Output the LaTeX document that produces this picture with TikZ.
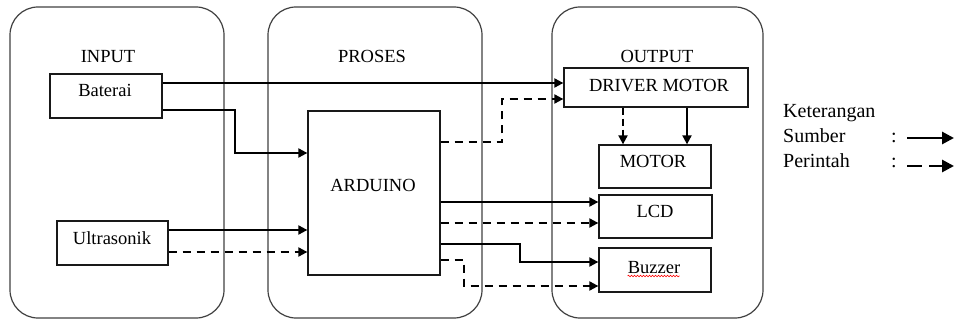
\documentclass[tikz,border=0pt]{standalone}
\usepackage{fontspec}
\setmainfont{Liberation Serif}
\usetikzlibrary{arrows.meta,decorations.pathmorphing}
\begin{document}
\begin{tikzpicture}[x=1pt,y=-1pt,
  panel/.style={draw=black!75, line width=1.2pt, rounded corners=28pt},
  box/.style={draw=black!90, line width=1.3pt, inner sep=0pt},
  txt/.style={font=\fontsize{18.5}{20}\selectfont, anchor=base, inner sep=0pt},
  legtxt/.style={font=\fontsize{20}{24}\selectfont, anchor=base west, inner sep=0pt},
  sumber/.style={line width=2pt, -{Triangle[length=9pt,width=9pt]}},
  perintah/.style={line width=2pt, dash pattern=on 8pt off 6pt, -{Triangle[length=9pt,width=9pt]}}
]
\useasboundingbox (0,0) rectangle (955,320);
% panels
\draw[panel] (10,7) rectangle (224,318);
\draw[panel] (268,7) rectangle (482,318);
\draw[panel] (552,7) rectangle (763,318);
% headers
\node[txt] (hin) at (108,63) {INPUT};
\node[txt] (hpr) at (372,63) {PROSES};
\node[txt] (hout) at (657,63) {OUTPUT};
% boxes
\node[box, minimum width=112pt, minimum height=44pt] (bat) at (106,96) {};
\node[txt] (batt) at (105,97) {Baterai};
\node[box, minimum width=111pt, minimum height=44pt] (ult) at (112.5,243) {};
\node[txt] (ultt) at (112,245) {Ultrasonik};
\node[box, minimum width=132pt, minimum height=164pt] (ard) at (374,193) {};
\node[txt] (ardt) at (373,192) {ARDUINO};
\node[box, minimum width=184pt, minimum height=39pt] (drv) at (656,87.5) {};
\node[txt] (drvt) at (659,92) {DRIVER MOTOR};
\node[box, minimum width=112pt, minimum height=43pt] (mot) at (655,166.5) {};
\node[txt] (mott) at (653,168) {MOTOR};
\node[box, minimum width=113pt, minimum height=43pt] (lcd) at (655.5,216.5) {};
\node[txt] (lcdt) at (655,218) {LCD};
\node[box, minimum width=112pt, minimum height=44pt] (buz) at (655,270) {};
\node[txt] (buzt) at (654,273) {Buzzer};
\draw[red, line width=0.6pt, decorate, decoration={snake, amplitude=0.8pt, segment length=3pt}] (buzt.base west) ++(0,3) -- ++(52,0);
% connectors
\draw[sumber] (bat.east |- 0,83) -- (drv.west |- 0,83);
\draw[sumber] (bat.east |- 0,110) -- (235,110) -- (235,153) -- (ard.west |- 0,153);
\draw[sumber] (ult.east |- 0,230) -- (ard.west |- 0,230);
\draw[perintah] (ult.east |- 0,252) -- (ard.west |- 0,252);
\draw[perintah] (ard.east |- 0,142) -- (502,142) -- (502,99) -- (drv.west |- 0,99);
\draw[sumber] (ard.east |- 0,202) -- (lcd.west |- 0,202);
\draw[perintah] (ard.east |- 0,223) -- (lcd.west |- 0,223);
\draw[sumber] (ard.east |- 0,244) -- (520,244) -- (520,262) -- (buz.west |- 0,262);
\draw[perintah] (ard.east |- 0,260) -- (464,260) -- (464,286) -- (buz.west |- 0,286);
\draw[perintah, dash pattern=on 7pt off 4pt] (drv.south -| 623,0) -- (mot.north -| 623,0);
\draw[sumber] (drv.south -| 687,0) -- (mot.north -| 687,0);
% legend
\node[legtxt] (k) at (783,118) {Keterangan};
\node[legtxt] (s) at (783,143) {Sumber};
\node[legtxt] (p) at (783,168) {Perintah};
\node[legtxt] (c1) at (891,143) {:};
\node[legtxt] (c2) at (891,168) {:};
\coordinate (l1a) at (907,138);
\coordinate (l1b) at (954,138);
\coordinate (l2a) at (907,166);
\coordinate (l2b) at (922,166);
\coordinate (l2c) at (929,166);
\coordinate (l2d) at (954,166);
\draw[line width=2.8pt, -{Triangle[length=12pt,width=12pt]}] (l1a) -- (l1b);
\draw[line width=2.8pt] (l2a) -- (l2b);
\draw[line width=2.8pt, -{Triangle[length=12pt,width=12pt]}] (l2c) -- (l2d);
\end{tikzpicture}
\end{document}
